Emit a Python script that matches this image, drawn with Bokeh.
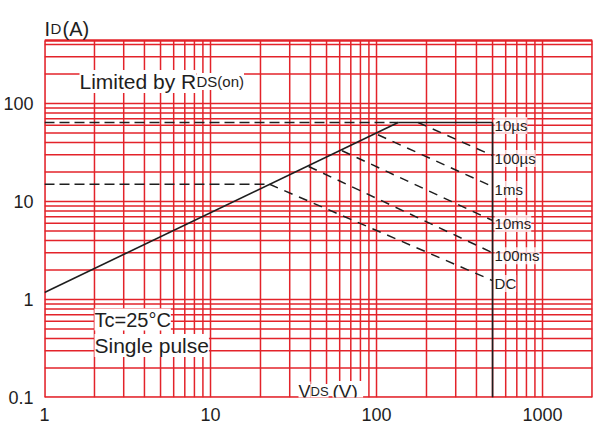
from bokeh.plotting import figure
from bokeh.models import Range1d, FixedTicker, Label
from bokeh.core.properties import value
from bokeh.embed import file_html
from bokeh.resources import INLINE
import math

FONT = "Liberation Sans"
INK = "#1e1e1e"
GRID_RED = "#e3232a"

# Axis ticks and labels
x_ticks = [1, 10, 100, 1000]
x_labels = ["1", "10", "100", "1000"]
y_ticks = [0.1, 1, 10, 100]
y_labels = ["0.1", "1", "10", "100"]

# Extent of the chart grid
x_min, x_max = 1, 2000
y_min, y_max = 0.1, 440

# Device limits
i_pulse_max = 64      # A, pulsed drain current ceiling
i_dc_max = 15         # A, continuous drain current ceiling
v_ds_max = 500        # V, drain-source breakdown limit

# RDS(on) limited region
rds_v = [1, 135]
rds_i = [1.18, 64]

# Current ceilings (dashed, from the left edge to the RDS(on) line)
ceil_v_end = [135, 22.7]
ceil_i = [i_pulse_max, i_dc_max]

# Safe operating area boundaries per pulse width
pulse_names = ["10µs", "100µs", "1ms", "10ms", "100ms", "DC"]
pulse_v_start = [135, 178, 102, 62, 39, 22.7]
pulse_i_start = [64, 64, 48, 33, 22.8, 15]
pulse_v_end = [500, 500, 500, 500, 500, 500]
pulse_i_end = [64, 29.5, 14.2, 6.4, 3.0, 1.56]


def log_grid(lo, hi):
    pts = []
    d = 10.0 ** math.floor(math.log10(lo) + 1e-9)
    while d <= hi * 1.0001:
        for k in range(1, 10):
            v = round(k * d, 6)
            if lo * 0.9999 <= v <= hi * 1.0001:
                pts.append(v)
        d *= 10
    return pts


# Canvas layout: the frame runs to the top of the page so the
# current-axis title can sit above the gridded area.
W, H = 593, 423
LEFT, RIGHT, BOTTOM = 43, 1, 26
GRID_TOP_PX = 40
frame_h = H - BOTTOM
grid_h = frame_h - GRID_TOP_PX
y_frame_top = y_min * (y_max / y_min) ** (frame_h / grid_h)

p = figure(width=W, height=H, x_axis_type="log", y_axis_type="log",
           x_range=Range1d(x_min, x_max), y_range=Range1d(y_min, y_frame_top),
           output_backend="svg", toolbar_location=None,
           min_border_left=LEFT, min_border_right=RIGHT,
           min_border_top=0, min_border_bottom=BOTTOM)
p.background_fill_color = "white"
p.border_fill_color = "white"
p.outline_line_color = None
p.xgrid.visible = False
p.ygrid.visible = False

p.xaxis.ticker = FixedTicker(ticks=x_ticks)
p.yaxis.ticker = FixedTicker(ticks=y_ticks)
p.xaxis.major_label_overrides = dict(zip(x_ticks, x_labels))
p.yaxis.major_label_overrides = dict(zip(y_ticks, y_labels))
for ax in (p.xaxis[0], p.yaxis[0]):
    ax.axis_line_color = None
    ax.major_tick_line_color = None
    ax.minor_tick_line_color = None
    ax.major_label_text_font = FONT
    ax.major_label_text_font_size = "18px"
    ax.major_label_text_color = INK
p.xaxis.major_label_standoff = 4
p.yaxis.major_label_standoff = 5

# Red log grid, limited to the chart area
gx = log_grid(x_min, x_max)
gy = log_grid(y_min, y_max)
p.segment(x0=gx, y0=[y_min] * len(gx), x1=gx, y1=[y_max] * len(gx),
          line_color=GRID_RED, line_width=1.5)
p.segment(x0=[x_min] * len(gy), y0=gy, x1=[x_max] * len(gy), y1=gy,
          line_color=GRID_RED, line_width=1.5)
# Chart border
p.segment(x0=[x_min, x_max, x_min, x_min], y0=[y_min, y_min, y_min, y_max],
          x1=[x_min, x_max, x_max, x_max], y1=[y_max, y_max, y_min, y_max],
          line_color=GRID_RED, line_width=2.5)

# RDS(on) limit
p.line(rds_v, rds_i, line_color=INK, line_width=1.6)

# Current ceilings
p.segment(x0=[x_min, x_min], y0=ceil_i, x1=ceil_v_end, y1=ceil_i,
          line_color=INK, line_width=1.6, line_dash="10 5")

# Pulse-width boundaries: shortest pulse is solid, the rest dashed
p.segment(x0=pulse_v_start[:1], y0=pulse_i_start[:1], x1=pulse_v_end[:1], y1=pulse_i_end[:1],
          line_color=INK, line_width=1.6)
p.segment(x0=pulse_v_start[1:], y0=pulse_i_start[1:], x1=pulse_v_end[1:], y1=pulse_i_end[1:],
          line_color=INK, line_width=1.5, line_dash="9 7")

# Breakdown voltage limit
p.segment(x0=[v_ds_max], y0=[y_min], x1=[v_ds_max], y1=[i_pulse_max],
          line_color=INK, line_width=1.6)

# Pulse-width labels at the end of each boundary
p.text(x=pulse_v_end, y=pulse_i_end, text=pulse_names, x_offset=2, y_offset=3,
       text_font=value(FONT), text_font_size="15px", text_color=INK,
       text_baseline="middle", text_align="left",
       background_fill_color="white", background_fill_alpha=0.75)


def at(cx, cy_baseline, text, size, bg=True):
    """Place text by canvas position (left edge, baseline)."""
    lab = Label(x=cx - LEFT, y=frame_h - cy_baseline, x_units="screen", y_units="screen",
                text=text, text_font=FONT, text_font_size=size, text_color=INK,
                text_baseline="alphabetic", text_align="left")
    if bg:
        lab.background_fill_color = "white"
    p.add_layout(lab)


# Current axis title
at(43, 28, "I", "20px", bg=False)
at(49, 28, "D", "15px", bg=False)
at(61, 28, "(A)", "20px", bg=False)

# Region annotation
at(78, 81, "Limited by R", "21px")
at(195, 81, "DS(on)", "15px")

# Test conditions
at(93, 319, "Tc=25°C", "20px")
at(93, 345, "Single pulse", "21px")

# Voltage axis title
at(297, 391, "V", "18px")
at(309, 391, "DS", "13px")
at(331, 391, " (V)", "19px")

open("out.html", "w").write(file_html(p, INLINE))
